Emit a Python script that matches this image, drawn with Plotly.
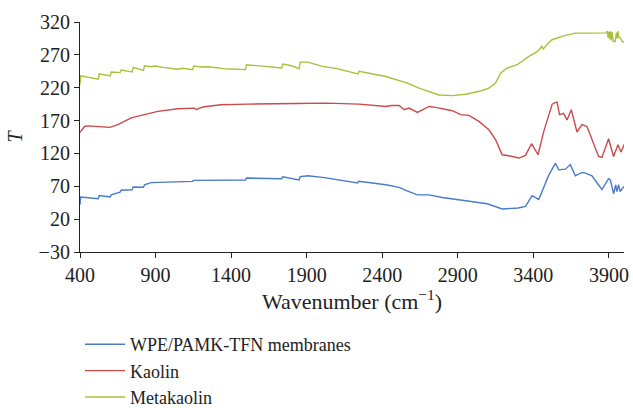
import plotly.graph_objects as go

# Metakaolin
meta_x = [400, 404, 520, 527, 600, 607, 665, 672, 745, 752, 820, 827, 870, 900, 950, 1000, 1047, 1080,
          1145, 1152, 1200, 1250, 1300, 1350, 1400, 1495, 1502, 1600, 1735, 1742, 1800, 1850, 1857,
          1907, 2006, 2100, 2240, 2247, 2424, 2567, 2644, 2776, 2864, 2952, 3050, 3106, 3150, 3183,
          3227, 3293, 3370, 3420, 3440, 3455, 3465, 3500, 3524, 3600, 3678, 3800, 3880, 3890, 3895,
          3900, 3905, 3910, 3915, 3920, 3930, 3942, 3950, 3955, 3960, 3965, 3975, 3990, 4020]
meta_y = [225, 238, 233, 241, 238, 244, 243, 247, 244, 251, 246.5, 253.5, 252, 253, 251, 250, 248, 249.5,
          247.5, 253, 251.5, 252, 250, 249, 248.5, 247.5, 255, 253, 250, 256, 253.5, 249, 259,
          259, 252.5, 249, 241, 245, 237, 227, 219.5, 209, 208, 210, 215, 219.5, 227, 242,
          250, 255, 267.6, 274, 278, 283, 279, 288, 293, 299, 303, 303, 303.5, 306, 296,
          305, 294, 306, 292, 305, 290, 290.5, 304, 295, 306, 297, 296, 290, 288]

# Kaolin
kaol_x = [400, 413, 430, 453, 519, 596, 651, 739, 827, 915, 1047, 1157, 1170, 1190, 1223, 1333, 1509,
          1808, 1830, 2028, 2248, 2424, 2460, 2512, 2545, 2578, 2633, 2710, 2754, 2864, 2919, 2974,
          3040, 3106, 3150, 3194, 3238, 3304, 3348, 3388, 3431, 3469, 3502, 3525, 3540, 3557, 3573,
          3600, 3623, 3651, 3689, 3722, 3755, 3800, 3832, 3854, 3898, 3931, 3960, 3980, 4020]
kaol_y = [152, 156, 161, 162, 161, 159.6, 163.7, 174, 179, 184, 188, 189, 186.5, 189, 191, 194, 195,
          196.7, 196, 196.5, 195, 191.5, 193, 193, 186.5, 189, 182.4, 191.5, 190, 185, 179, 178,
          168.7, 156, 141, 118, 116.5, 113, 117, 134.8, 118, 153.5, 179, 195, 197, 198, 179,
          181, 171, 186.5, 152.6, 163.7, 161, 135, 115.4, 114, 142.4, 115.4, 133.3, 122, 143.4]

# WPE/PAMK-TFN membranes
wpe_x = [400, 404, 520, 527, 600, 607, 665, 672, 745, 752, 820, 827, 870, 915, 1047, 1145, 1152, 1290,
         1495, 1502, 1735, 1742, 1850, 1857, 1907, 2006, 2237, 2245, 2424, 2512, 2556, 2633, 2710,
         2798, 2952, 3095, 3194, 3300, 3348, 3392, 3436, 3469, 3502, 3546, 3568, 3612, 3645, 3678,
         3722, 3744, 3788, 3832, 3854, 3898, 3909, 3931, 3945, 3953, 3964, 3975, 3990, 4020]
wpe_y = [42, 53.6, 51, 56, 53.6, 57, 61, 64, 64.7, 69, 68.5, 72.3, 75.5, 76, 76.5, 77.5, 79, 79.5,
         79.5, 82.5, 81.5, 84.5, 79.5, 84.5, 86, 83.5, 75, 77.5, 72.3, 68.3, 63.7, 57, 57,
         53, 48, 43.4, 35.4, 37, 39.5, 55.6, 50, 70, 87, 105, 95, 96, 103, 86,
         91, 90, 86, 72, 65, 81.5, 80, 58.7, 72, 62, 72.3, 62, 67, 74]

x_ticks = [400, 900, 1400, 1900, 2400, 2900, 3400, 3900]
y_ticks = [-30, 20, 70, 120, 170, 220, 270, 320]

FONT = "Liberation Serif"

fig = go.Figure()
fig.add_trace(go.Scatter(x=wpe_x, y=wpe_y, mode="lines", name="WPE/PAMK-TFN membranes",
                         line=dict(color="#4a7bc8", width=1.4), legendgroup="a"))
fig.add_trace(go.Scatter(x=kaol_x, y=kaol_y, mode="lines", name="Kaolin",
                         line=dict(color="#cc4a4a", width=1.4), legendgroup="b"))
fig.add_trace(go.Scatter(x=meta_x, y=meta_y, mode="lines", name="Metakaolin",
                         line=dict(color="#a9c13a", width=1.4), legendgroup="c"))

axis_common = dict(showgrid=False, zeroline=False, showline=True, linecolor="#222",
                   linewidth=1.2, ticks="outside", ticklen=5, tickcolor="#222", tickwidth=1.2,
                   tickfont=dict(family=FONT, size=20, color="#222"))

fig.update_layout(
    width=633, height=408,
    margin=dict(l=80, r=9, t=22, b=156, autoexpand=False),
    paper_bgcolor="white", plot_bgcolor="white",
    font=dict(family=FONT, color="#222"),
    xaxis=dict(range=[400, 4000], tickvals=x_ticks, ticktext=[str(v) for v in x_ticks],
               title=dict(text="Wavenumber (cm<sup>−1</sup>)", font=dict(family=FONT, size=22),
                          standoff=7),
               **axis_common),
    yaxis=dict(range=[-30, 320], tickvals=y_ticks,
               ticktext=[str(v).replace("-", "−") for v in y_ticks],
               title=dict(text="<i>T</i>", font=dict(family=FONT, size=20), standoff=10),
               **axis_common),
    showlegend=True,
    legend=dict(x=0, xanchor="left", y=-0.322, yanchor="top", orientation="v",
                font=dict(family=FONT, size=18, color="#222"), tracegroupgap=0,
                bgcolor="rgba(0,0,0,0)", itemwidth=40),
)

fig.write_html("out.html")
